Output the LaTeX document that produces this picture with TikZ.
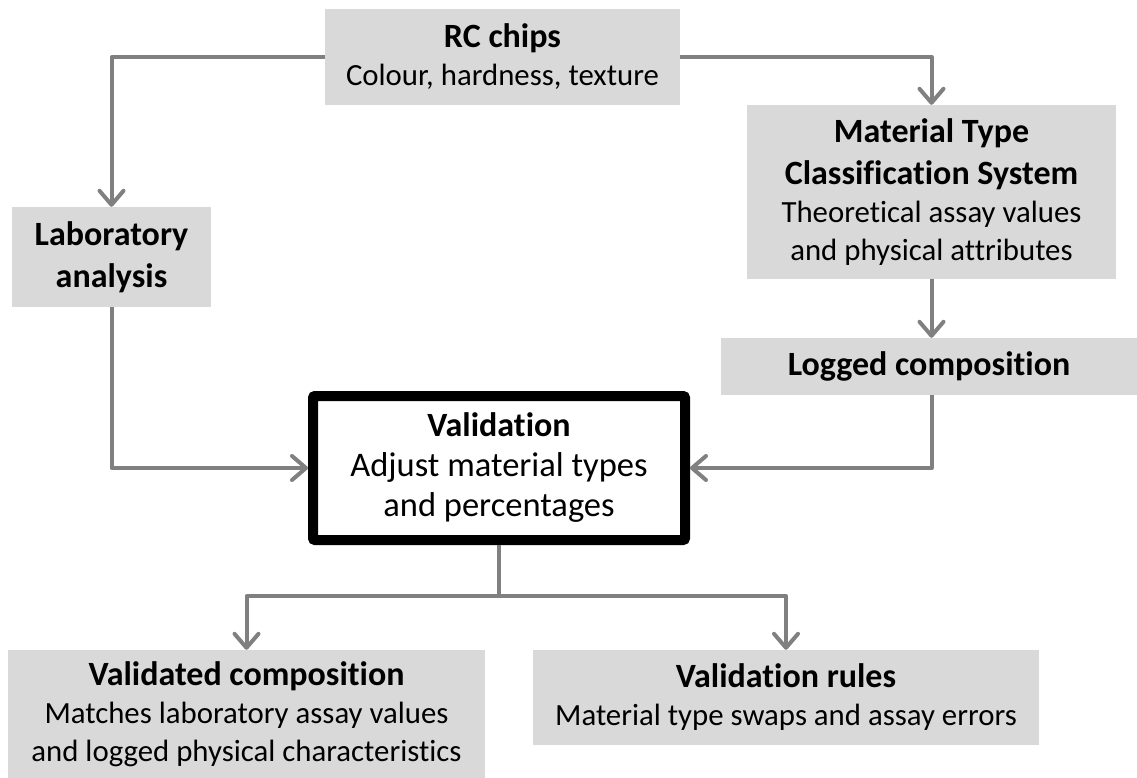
\documentclass[tikz,border=0pt]{standalone}
\usepackage{fontspec}
\setmainfont{Carlito}[Ligatures={NoCommon}]
\usetikzlibrary{arrows.meta}
\newcommand\hdfont{\fontsize{34}{41}\selectfont\bfseries}
\newcommand\bdfont{\fontsize{30.8}{38}\selectfont}
\newcommand\vbfont{\fontsize{34.5}{40}\selectfont}
\definecolor{boxgray}{HTML}{D9D9D9}
\definecolor{linegray}{HTML}{808080}
\tikzset{
  gbox/.style={fill=boxgray, draw=none, inner sep=0pt, align=center, font=\bdfont},
  vbox/.style={draw=black, line width=10pt, fill=white, rounded corners=2pt, inner sep=0pt, align=center, font=\vbfont},
  conn/.style={draw=linegray, line width=4pt, line join=round},
  arr/.style={conn, -{Straight Barb[length=14pt,width=24pt,line cap=round,line join=round]}}
}
\begin{document}
\begin{tikzpicture}[x=1pt,y=-1pt]
\useasboundingbox (0,0) rectangle (1137,778);
\node[gbox, minimum width=355pt, minimum height=96pt] (rc) at (502.5,57)
  {{\hdfont RC chips}\\Colour, hardness, texture};
\node[gbox, minimum width=199pt, minimum height=100pt] (lab) at (111.5,257)
  {{\hdfont Laboratory}\\[4pt]{\hdfont analysis}};
\node[gbox, minimum width=369pt, minimum height=174pt] (mat) at (931.5,192)
  {{\hdfont Material Type}\\[4pt]{\hdfont Classification System}\\Theoretical assay values\\and physical attributes};
\node[gbox, minimum width=416pt, minimum height=57pt] (log) at (929,366.5)
  {{\hdfont Logged composition}};
\node[vbox, minimum width=372pt, minimum height=144pt] (val) at (499,468)
  {{\hdfont Validation}\\Adjust material types\\and percentages};
\node[gbox, minimum width=477pt, minimum height=128pt] (vc) at (246.5,714)
  {{\hdfont Validated composition}\\Matches laboratory assay values\\and logged physical characteristics};
\node[gbox, minimum width=506pt, minimum height=95pt] (vr) at (786,697.5)
  {{\hdfont Validation rules}\\Material type swaps and assay errors};

\draw[arr] (rc.west) -| (lab.north);
\draw[arr] (rc.east) -| (mat.north);
\draw[arr] (mat.south) -- (mat.south |- log.north);
\draw[arr] (lab.south) |- (val.west);
\coordinate (lb) at (mat.south |- log.south);
\draw[arr] (lb) |- (val.east);
\coordinate (split) at (499,596);
\draw[conn] (val.south) -- (split);
\draw[arr] (split) -| (vc.north);
\draw[arr] (split) -| (vr.north);
\end{tikzpicture}
\end{document}
